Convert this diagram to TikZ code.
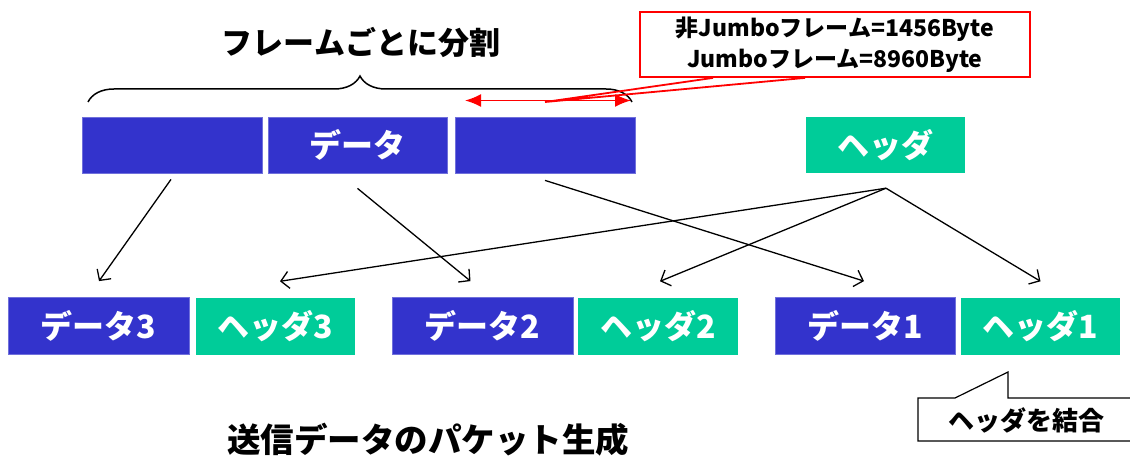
\documentclass[tikz,border=0pt]{standalone}
\usepackage{fontspec}
\setmainfont{Noto Sans CJK JP}
\usetikzlibrary{arrows.meta,decorations.pathreplacing}
\definecolor{dblue}{HTML}{3333CC}
\definecolor{hgreen}{HTML}{00CC99}
\definecolor{cred}{HTML}{FF0000}
\tikzset{
  databox/.style={fill=dblue, draw=dblue!70!white, line width=0.8pt, minimum height=56pt, minimum width=180pt, inner sep=0pt,
    text=white, font=\fontsize{32}{34}\selectfont\bfseries},
  hdrbox/.style={fill=hgreen, draw=none, minimum height=56pt, minimum width=159pt, inner sep=0pt,
    text=white, font=\fontsize{32}{34}\selectfont\bfseries},
  arr/.style={line width=1.3pt, -{Straight Barb[length=8pt,width=17pt,line width=1.3pt]}},
  redarr/.style={cred, line width=1.8pt, {Latex[length=16pt,width=13pt]}-{Latex[length=16pt,width=13pt]}},
  lbl/.style={inner sep=0pt, font=\fontsize{31}{34}\selectfont\bfseries},
}
\begin{document}
\begin{tikzpicture}[x=1pt,y=-1pt]
\useasboundingbox (0,0) rectangle (1130,457);
% top row
\node[databox] (t1) at (172,145) {};
\node[databox, minimum width=179pt] (t2) at (357.5,145) {データ};
\node[databox] (t3) at (545,145) {};
\node[hdrbox] (hd) at (885.5,145) {ヘッダ};
% bottom row
\node[databox, minimum width=181pt, minimum height=57pt] (d3) at (98.5,326) {データ3};
\node[hdrbox, minimum height=57pt] (h3) at (275.5,326) {ヘッダ3};
\node[databox, minimum width=181pt, minimum height=57pt] (d2) at (482.5,326) {データ2};
\node[hdrbox, minimum width=160pt, minimum height=57pt] (h2) at (658,326) {ヘッダ2};
\node[databox, minimum height=57pt] (d1) at (865,326) {データ1};
\node[hdrbox, minimum width=159pt, minimum height=57pt] (h1) at (1040.5,326) {ヘッダ1};
% brace and title
\draw[line width=1.5pt, decorate, decoration={brace, amplitude=26pt, aspect=0.5}] (88,102) -- (632,102);
\node[lbl] (title) at (361,42) {フレームごとに分割};
% arrows data
\draw[arr] ([xshift=-1pt,yshift=-6pt]t1.south) -- ([xshift=0.5pt,yshift=16pt]d3.north);
\draw[arr] ([yshift=-15pt]t2.south) -- ([xshift=-12pt,yshift=16pt]d2.north);
\draw[arr] ([yshift=-7pt]t3.south) -- ([xshift=-1pt,yshift=16pt]d1.north);
% arrows header
\coordinate (hs) at ([xshift=0.5pt,yshift=-15pt]hd.south);
\draw[arr] (hs) -- ([xshift=4.5pt,yshift=16pt]h3.north);
\draw[arr] (hs) -- ([xshift=2pt,yshift=16pt]h2.north);
\draw[arr] (hs) -- ([xshift=0pt,yshift=16pt]h1.north);
% red callout
\node[draw=cred, line width=1.8pt, minimum width=390pt, minimum height=65pt, inner sep=0pt, align=center,
  font=\fontsize{23}{31}\selectfont\bfseries] (rb) at (835,44.5) {非Jumboフレーム=1456Byte\\Jumboフレーム=8960Byte};
\coordinate (ra) at (465,100.5);
\coordinate (rc) at (631,100.5);
\draw[redarr] (ra) -- (rc);
\coordinate (rtip) at (545,102);
\draw[cred, line width=1.8pt] ([xshift=-122pt]rb.south) -- (rtip) -- ([xshift=-30pt]rb.south);
% bottom-right callout
\coordinate (cp) at (1008,372);
\draw[line width=1.2pt, fill=white] (918,398) -- (955,398) -- (cp) -- (1008,398) -- (1140,398) -- (1140,441) -- (918,441) -- cycle;
\node[inner sep=0pt, font=\fontsize{26}{28}\selectfont\bfseries] (cl) at (1026,420) {ヘッダを結合};
% bottom title
\node[lbl, font=\fontsize{33.5}{36}\selectfont\bfseries] (btitle) at (428,440) {送信データのパケット生成};
\end{tikzpicture}
\end{document}
